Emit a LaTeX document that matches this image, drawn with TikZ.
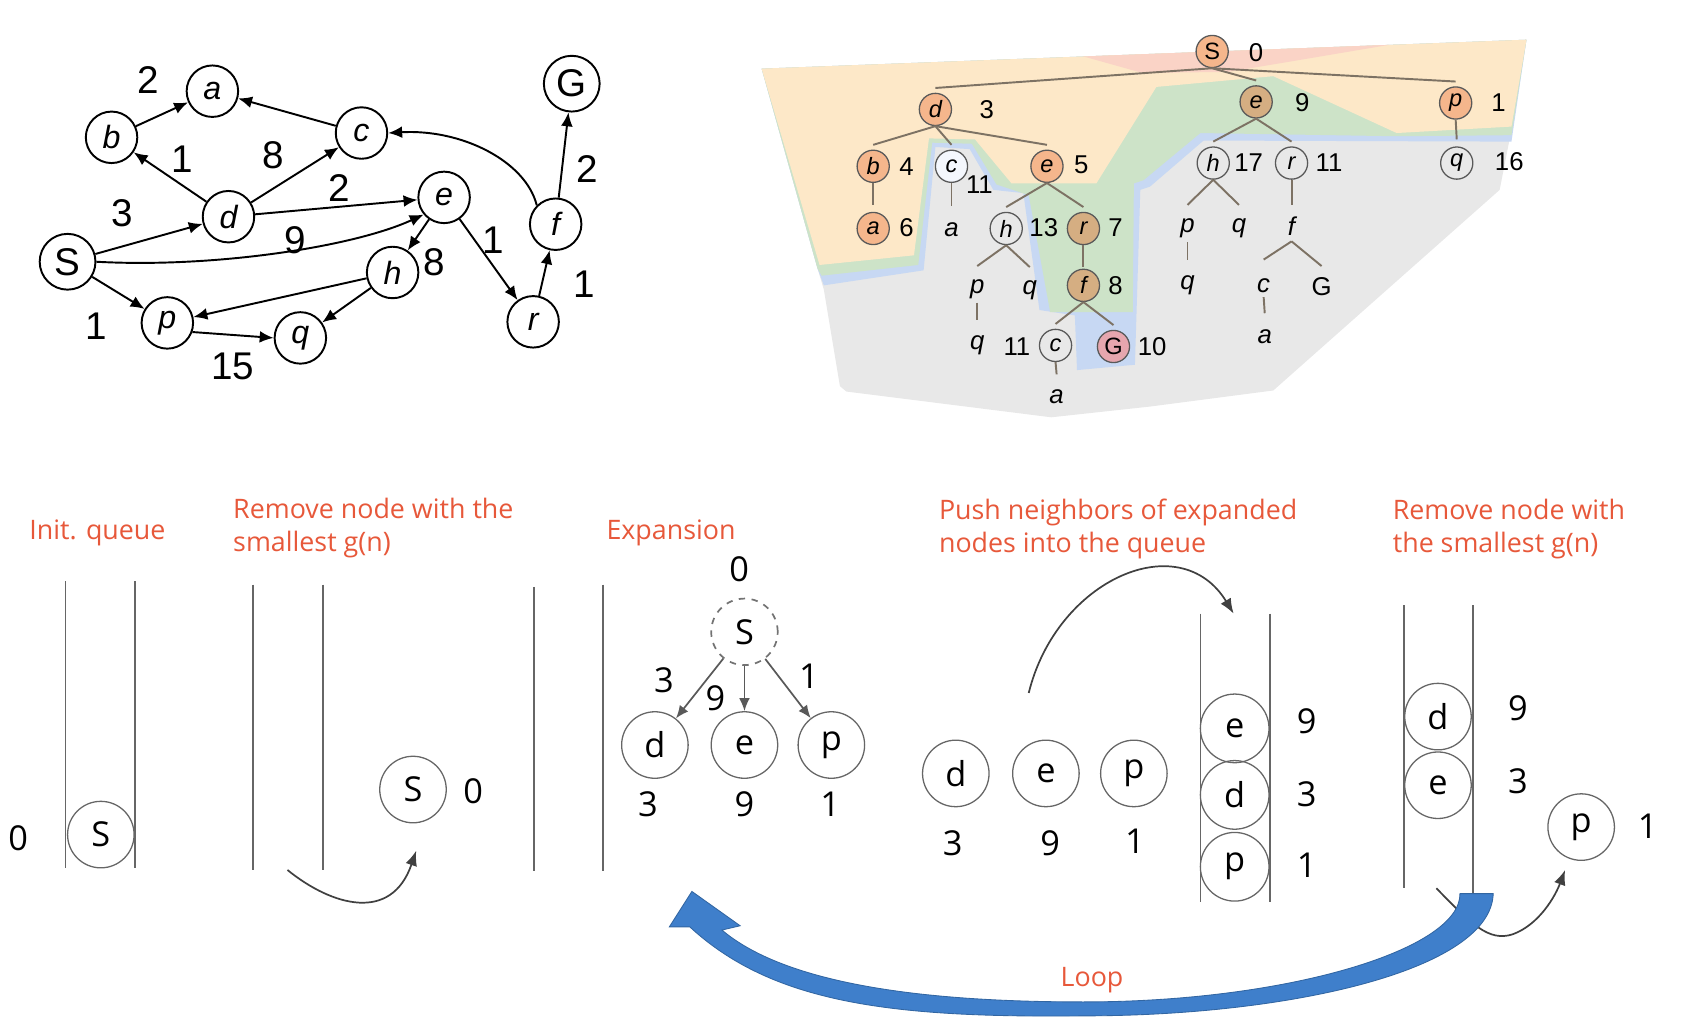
\documentclass[tikz,border=0pt]{standalone}
\usepackage{fontspec}
\setmainfont{Liberation Sans}
\newfontfamily\osans{Open Sans}
\usetikzlibrary{arrows.meta,calc}
\newcommand\myfs[1]{\fontsize{#1}{#1}\selectfont}
\definecolor{bggray}{HTML}{E8E8E8}
\definecolor{bgblue}{HTML}{C7D8F3}
\definecolor{bggreen}{HTML}{CDE3C8}
\definecolor{bgorange}{HTML}{FDE8C8}
\definecolor{bgpink}{HTML}{FAD3C6}
\definecolor{norange}{HTML}{F5B68C}
\definecolor{ntan}{HTML}{D5AE82}
\definecolor{npink}{HTML}{E6A6AE}
\definecolor{tlinecol}{HTML}{7D7264}
\definecolor{titlered}{HTML}{E7583A}
\definecolor{loopblue}{HTML}{3F7FCB}
\begin{document}
\begin{tikzpicture}[x=0.5pt,y=0.5pt,
  gnode/.style={circle, draw=black, line width=0.9pt, minimum size=24pt, inner sep=0pt, font=\myfs{15}\itshape},
  gbig/.style={gnode, minimum size=26pt, font=\myfs{18}},
  gedge/.style={-{Latex[length=6.5pt,width=5.5pt]}, line width=0.9pt},
  glab/.style={font=\myfs{18}, inner sep=0pt},
  tcirc/.style={circle, draw=black!65, line width=0.6pt, minimum size=15pt, inner sep=0pt, font=\myfs{11}\itshape},
  tnum/.style={font=\myfs{12}, inner sep=0pt},
  ttext/.style={font=\myfs{12}\itshape, inner sep=0pt},
  tline/.style={draw=tlinecol, line width=0.9pt},
  qline/.style={draw=black!60, line width=0.7pt},
  qnode/.style={circle, draw=black!60, line width=0.6pt, minimum size=31pt, inner sep=0pt, font=\osans\myfs{16}},
  qnum/.style={font=\osans\myfs{16}, inner sep=0pt},
  qtitle/.style={font=\osans\fontsize{12.5}{15.5}\selectfont, text=titlered, align=left, inner sep=0pt, anchor=west},
  xarrow/.style={draw=black!65, line width=0.8pt, -{Latex[length=6pt,width=5pt]}},
  carrow/.style={draw=black!75, line width=0.8pt, -{Latex[length=7pt,width=5.5pt]}}
]
\useasboundingbox (0,0) rectangle (1568,-950);

% ---------------- tree background ----------------
\fill[bggray] (710,-64) -- (1423,-37) -- (1409,-121) -- (1398,-177) -- (1187,-364) -- (1072,-379) -- (980,-389) -- (789,-365) -- (783,-360) -- (768,-270) -- (762,-250) -- cycle;
\fill[bgblue] (710,-64) -- (1423,-37) -- (1409,-132) -- (1122,-131) -- (1072,-174) -- (1063,-177) -- (1058,-340) -- (1004,-345) -- (1002,-294) -- (969,-289) -- (954,-180) -- (926,-177) -- (904,-139) -- (872,-137) -- (861,-252) -- (768,-266) -- (762,-250) -- cycle;
\fill[bggreen] (710,-64) -- (1423,-37) -- (1409,-126) -- (1302,-127) -- (1119,-124) -- (1066,-168) -- (1057,-171) -- (1056,-291) -- (979,-291) -- (959,-182) -- (929,-172) -- (906,-134) -- (869,-133) -- (856,-247) -- (766,-257) -- (762,-250) -- cycle;
\fill[bgorange] (710,-64) -- (1423,-37) -- (1409,-118) -- (1302,-124) -- (1187,-71) -- (1078,-81) -- (1022,-171) -- (943,-171) -- (909,-130) -- (866,-129) -- (852,-238) -- (764,-247) -- cycle;
\fill[bgpink] (1010,-52.6) -- (1295,-41.8) -- (1205,-57) -- (1145,-67) -- (1065,-68) -- cycle;

% ---------------- tree nodes ----------------
\node[tcirc, fill=norange] (tS) at (1130,-48) {\upshape S};
\node[tnum] at (1171,-49) {0};
\node[tcirc, fill=norange] (td) at (872,-102) {d};
\node[tnum] at (920,-102) {3};
\node[tcirc, fill=ntan] (te9) at (1171,-95) {e};
\node[tnum] at (1214,-96) {9};
\node[tcirc, fill=norange] (tp1) at (1357,-96) {p};
\node[tnum] at (1397,-96) {1};
\node[tcirc, fill=norange] (tb) at (814,-155) {b};
\node[tnum] at (845,-155) {4};
\node[tcirc, fill=white!80!bgblue] (tc) at (887,-155) {c};
\node[tnum] at (913,-172) {11};
\node[tcirc, fill=norange] (te5) at (976,-155) {e};
\node[tnum] at (1008,-154) {5};
\node[tcirc] (th17) at (1131,-152) {h};
\node[tnum] at (1164,-152) {17};
\node[tcirc] (tr11) at (1204,-152) {r};
\node[tnum] at (1239,-152) {11};
\node[tcirc] (tq16) at (1358,-152) {q};
\node[tnum] at (1407,-151) {16};
\node[tcirc, fill=norange] (ta6) at (814,-213) {a};
\node[tnum] at (845,-212) {6};
\node[ttext] (tac) at (887,-214) {a};
\node[tcirc] (th13) at (938,-213) {h};
\node[tnum] at (973,-212) {13};
\node[tcirc, fill=ntan] (tr7) at (1010,-213) {r};
\node[tnum] at (1040,-212) {7};
\node[ttext] (tp17) at (1107,-213) {p};
\node[ttext] (tq17) at (1155,-213) {q};
\node[ttext] (tf11) at (1204,-211) {f};
\node[ttext] (tp13) at (911,-270) {p};
\node[ttext] (tq13) at (960,-271) {q};
\node[tcirc, fill=ntan] (tf8) at (1010,-266) {f};
\node[tnum] at (1040,-266) {8};
\node[ttext] (tq17b) at (1107,-266) {q};
\node[ttext] (tc11) at (1178,-266) {c};
\node[tnum] (tG11) at (1232,-267) {G};
\node[ttext] (tq13b) at (911,-322) {q};
\node[tnum] at (948,-323) {11};
\node[tcirc] (tc8) at (984,-322) {c};
\node[tcirc, fill=npink] (tG8) at (1038,-323) {\upshape G};
\node[tnum] at (1074,-323) {10};
\node[ttext] (ta11) at (1179,-314) {a};
\node[ttext] (ta8) at (985,-370) {a};

% tree edges
\draw[tline] (tS.south) -- ($(td)+(0,20)$);
\draw[tline] (tS.south) -- ($(te9)+(0,20)$);
\draw[tline] (tS.south) -- ($(tp1)+(0,20)$);
\draw[tline] (td.south) -- ($(tb)+(0,20)$);
\draw[tline] (td.south) -- ($(tc)+(0,20)$);
\draw[tline] (td.south) -- ($(te5)+(0,20)$);
\draw[tline] (te9.south) -- ($(th17)+(0,20)$);
\draw[tline] (te9.south) -- ($(tr11)+(0,20)$);
\draw[tline] (tp1.south) -- ($(tq16)+(0,22)$);
\draw[tline] (tb.south) -- ($(ta6)+(0,22)$);
\draw[tline] (tc.south) -- ($(tac)+(0,22)$);
\draw[tline] (te5.south) -- ($(th13)+(0,20)$);
\draw[tline] (te5.south) -- ($(tr7)+(0,20)$);
\draw[tline] (th17.south) -- ($(tp17)+(0,22)$);
\draw[tline] (th17.south) -- ($(tq17)+(0,22)$);
\draw[tline] (tr11.south) -- ($(tf11)+(0,20)$);
\draw[tline] (th13.south) -- ($(tp13)+(0,22)$);
\draw[tline] (th13.south) -- ($(tq13)+(0,22)$);
\draw[tline] (tr7.south) -- ($(tf8)+(0,17)$);
\draw[tline] ($(tp17)+(0,-13)$) -- ($(tq17b)+(0,24)$);
\draw[tline] ($(tf11)+(0,-14)$) -- ($(tc11)+(0,24)$);
\draw[tline] ($(tf11)+(0,-14)$) -- ($(tG11)+(0,19)$);
\draw[tline] ($(tp13)+(0,-12)$) -- ($(tq13b)+(0,24)$);
\draw[tline] (tf8.south) -- ($(tc8)+(0,20)$);
\draw[tline] (tf8.south) -- ($(tG8)+(0,20)$);
\draw[tline] ($(tc11)+(0,-11)$) -- ($(ta11)+(0,22)$);
\draw[tline] (tc8.south) -- ($(ta8)+(0,21)$);

% ---------------- graph ----------------
\node[gbig] (S) at (63,-244) {\upshape S};
\node[gnode] (a) at (198,-85) {a};
\node[gnode] (b) at (104,-128) {b};
\node[gnode] (c) at (337,-124) {c};
\node[gbig] (G) at (533,-78) {\upshape G};
\node[gnode] (d) at (213,-202) {d};
\node[gnode] (e) at (414,-184) {e};
\node[gnode] (f) at (518,-209) {f};
\node[gnode] (h) at (366,-254) {h};
\node[gnode] (p) at (156,-301) {p};
\node[gnode] (q) at (280,-315) {q};
\node[gnode] (r) at (497,-300) {r};

\draw[gedge] (b) -- (a);
\draw[gedge] (c) -- (a);
\draw[gedge] (d) -- (b);
\draw[gedge] (d) -- (c);
\draw[gedge] (d) -- (e);
\draw[gedge] (S) -- (d);
\draw[gedge] (S.east) .. controls (200,-250) and (330,-230) .. (e.220);
\draw[gedge] (e) -- (h);
\draw[gedge] (e) -- (r);
\draw[gedge] (h) -- (p);
\draw[gedge] (h) -- (q);
\draw[gedge] (S) -- (p);
\draw[gedge] (p.-20) -- (q.west);
\draw[gedge] (r) -- (f);
\draw[gedge] (f) -- (G);
\draw[gedge] (f.135) .. controls (490,-150) and (430,-120) .. (c.east);

\node[glab] at (138,-75) {2};
\node[glab] at (170,-148) {1};
\node[glab] at (255,-145) {8};
\node[glab] at (114,-199) {3};
\node[glab] at (316,-175) {2};
\node[glab] at (275,-224) {9};
\node[glab] at (405,-244) {8};
\node[glab] at (460,-224) {1};
\node[glab] at (547,-158) {2};
\node[glab] at (545,-265) {1};
\node[glab] at (90,-304) {1};
\node[glab] at (217,-342) {15};

% ---------------- titles ----------------
\node[qtitle] (t1) at (27,-497) {Init. queue};
\node[qtitle] (t2) at (217,-492) {Remove node with the\\smallest g(n)};
\node[qtitle] (t3) at (565,-497) {Expansion};
\node[qtitle] (t4) at (875,-493) {Push neighbors of expanded\\nodes into the queue};
\node[qtitle] (t5) at (1298,-493) {Remove node with\\the smallest g(n)};

% ---------------- queue 1 ----------------
\draw[qline] (61,-542) -- (61,-809);
\draw[qline] (126,-542) -- (126,-809);
\node[qnode] (q1S) at (94,-778) {S};
\node[qnum] at (17,-781) {0};

% ---------------- queue 2 ----------------
\draw[qline] (236,-545) -- (236,-811);
\draw[qline] (301,-545) -- (301,-811);
\node[qnode] (q2S) at (385,-736) {S};
\node[qnum] at (441,-738) {0};
\coordinate (c2a) at (268,-811);
\coordinate (c2b) at (388,-793);
\draw[carrow] (c2a) .. controls (310,-845) and (365,-860) .. (c2b);

% ---------------- expansion ----------------
\draw[qline] (498,-547) -- (498,-812);
\draw[qline] (562,-545) -- (562,-812);
\node[qnode, dashed, draw=black!55, line width=0.8pt] (xS) at (694,-589) {S};
\node[qnum] at (689,-531) {0};
\node[qnode] (xd) at (610.5,-694.5) {d};
\node[qnode] (xe) at (694,-694.5) {e};
\node[qnode] (xp) at (775,-694.5) {p};
\node[qnum] at (604,-750) {3};
\node[qnum] at (694,-750) {9};
\node[qnum] at (774,-750) {1};
\draw[xarrow] (xS) -- (xd);
\draw[xarrow] (xS) -- (xe);
\draw[xarrow] (xS) -- (xp);
\node[qnum] at (619,-634) {3};
\node[qnum] at (667,-651) {9};
\node[qnum] at (754,-630) {1};

% ---------------- push ----------------
\node[qnode] (pd) at (891,-721) {d};
\node[qnode] (pe) at (975,-721) {e};
\node[qnode] (pp) at (1057,-721) {p};
\node[qnum] at (888,-786) {3};
\node[qnum] at (979,-786) {9};
\node[qnum] at (1058,-784) {1};
\coordinate (c4a) at (959,-646);
\coordinate (c4b) at (1150,-572);
\draw[carrow] (c4a) .. controls (985,-540) and (1100,-490) .. (c4b);

\draw[qline] (1119,-572) -- (1119,-841);
\draw[qline] (1184,-572) -- (1184,-841);
\node[qnode, minimum size=32pt] (qe) at (1151,-679) {e};
\node[qnode, minimum size=32pt] (qd) at (1151,-741) {d};
\node[qnode, minimum size=32pt] (qp) at (1151,-808) {p};
\node[qnum] at (1218,-672) {9};
\node[qnum] at (1218,-740) {3};
\node[qnum] at (1218,-807) {1};

% ---------------- queue 4 ----------------
\draw[qline] (1309,-564) -- (1309,-828);
\draw[qline] (1373,-564) -- (1373,-834);
\node[qnode] (rd) at (1340.5,-668) {d};
\node[qnode] (re) at (1340.5,-732) {e};
\node[qnum] at (1415,-660) {9};
\node[qnum] at (1415,-728) {3};
\node[qnode] (rp) at (1474,-771) {p};
\node[qnum] at (1536,-770) {1};
\coordinate (c5a) at (1339,-828);
\coordinate (c5b) at (1459,-811);
\draw[carrow] (c5a) .. controls (1372,-862) and (1388,-878) .. (1410,-871) .. controls (1435,-862) and (1450,-835) .. (c5b);

% ---------------- loop arrow ----------------
\filldraw[fill=loopblue, draw=loopblue!80!black, line width=0.4pt]
  (1392,-833) .. controls (1390,-905) and (1200,-947) .. (1010,-947)
  .. controls (830,-949) and (720,-935) .. (643,-864)
  -- (624,-864) -- (645,-831) -- (690,-863) -- (673,-867)
  .. controls (730,-915) and (850,-934) .. (1010,-934)
  .. controls (1200,-934) and (1362,-885) .. (1361,-833) -- cycle;
\node[font=\osans\myfs{12.5}, text=titlered, inner sep=0pt] (loop) at (1018,-914) {Loop};
\end{tikzpicture}
\end{document}
